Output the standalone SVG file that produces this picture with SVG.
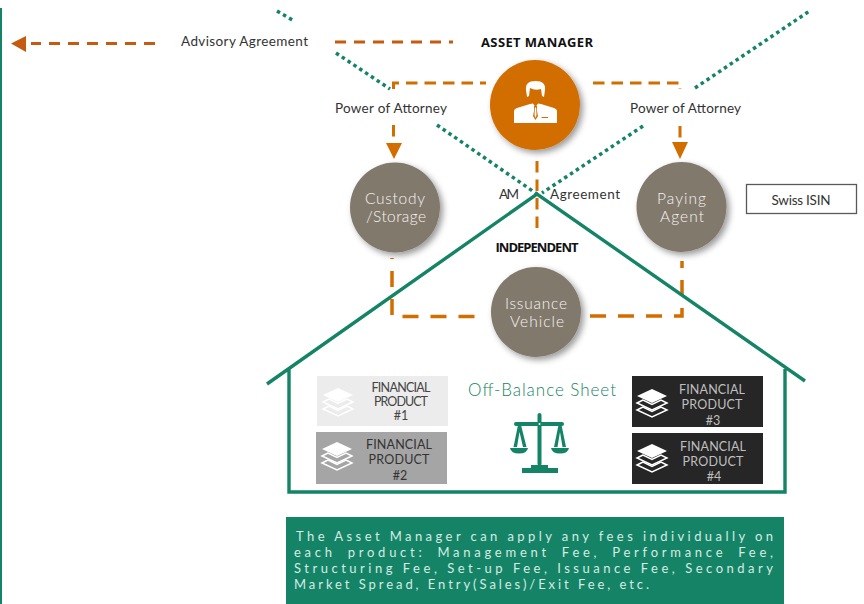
<svg xmlns="http://www.w3.org/2000/svg" width="864" height="604" viewBox="0 0 864 604">
<style>
text{font-family:"Lato","Open Sans","Liberation Sans",sans-serif}
.lb{font-size:13.5px;fill:#333}
.nd{font-size:15.5px;fill:#f6f4f0;text-anchor:middle;font-weight:300}
.b{font-size:13px;font-weight:700;fill:#111;font-family:"Open Sans","Liberation Sans",sans-serif}
.fp{font-size:12.5px;text-anchor:middle}
.fee{font-size:13px;fill:#d5ebe4}
.dash{fill:none;stroke:#D26D00;stroke-width:3;stroke-dasharray:11.5 7}
.dash2{fill:none;stroke:#D26D00;stroke-width:3.5;stroke-dasharray:16 12}
.adv{fill:none;stroke:#C55A11;stroke-width:3;stroke-dasharray:11 8}
.dot{fill:none;stroke:#158466;stroke-width:3.5;stroke-dasharray:3.5 3.5}
.house{fill:none;stroke:#158466;stroke-width:3.4}
.circle{fill:#82796D;filter:url(#sh)}
</style>
<defs>
<filter id="sh" x="-30%" y="-30%" width="170%" height="170%"><feDropShadow dx="3" dy="3" stdDeviation="3" flood-color="#000" flood-opacity="0.4"/></filter>
<g id="stack">
<path d="M0 -14L15 -7L0 0L-15 -7Z" fill="currentColor"/>
<path d="M-9 -3L-15 0L0 7L15 0L9 -3L0 1.5Z" fill="none" stroke="currentColor" stroke-width="1.5"/>
<path d="M-9 4L-15 7L0 14L15 7L9 4L0 8.5Z" fill="none" stroke="currentColor" stroke-width="1.5"/>
</g>
</defs>
<rect x="0" y="8" width="2" height="596" fill="#158466"/>
<g id="connectors">
<path class="dot" d="M277 11L294 21M336 53L390 89M437 125L537 194M643 126L542 193M695 88L811 10"/>
<path class="adv" d="M155 43.500H31M335 42H453"/>
<path d="M11 43.500L26 36V52Z" fill="#C55A11"/>
<path class="dash" d="M393.500 89V83H486M593 83H680V89"/>
<path class="dash" d="M393.500 125V140M680 126V142"/>
<path d="M386 143H402L394 159Z M672 142H688L680 159Z" fill="#D26D00"/>
<path class="dash" d="M537 161V228"/>
<path class="dash2" stroke-dashoffset="15" d="M392 258V316.500H483"/>
<path class="dash2" d="M590 316H682V261"/>
</g>
<g id="house"><path class="house" d="M267 384L537 194L805 381M289 369V492H785V369"/></g>
<g id="asset-manager">
<circle class="circle" cx="535" cy="105" r="45" style="fill:#D26D00"/>
<path d="M526 90Q525 81 535.500 81Q546 81 545 90L544 97L542 96L541 89Q535 91 530 88L529 96L527 97Z" fill="#fff"/>
<path d="M514 123V111Q514 109 517 108L530 104L533 103.500L535.500 107L538 103.500L541 104L554 108Q557 109 557 111V123Z" fill="#fff"/>
<path d="M534 106H537L536.800 110L538 116L535.500 120L533 116L534.200 110Z" fill="#D26D00"/>
<path d="M535 107.500H536L536.500 115L535.500 118L534.500 115Z" fill="#fff"/>
<rect x="541.500" y="117" width="6.500" height="1" fill="#D26D00"/>
<text class="b" x="537" y="47" text-anchor="middle" textLength="112">ASSET MANAGER</text>
</g>
<g id="custody"><circle class="circle" cx="395" cy="207.500" r="45"/><text class="nd" x="395" y="204" textLength="60">Custody</text><text class="nd" x="396" y="222" textLength="60">/Storage</text></g>
<g id="paying"><circle class="circle" cx="681.500" cy="207" r="45"/><text class="nd" x="681.500" y="204" textLength="49">Paying</text><text class="nd" x="682" y="222" textLength="44">Agent</text></g>
<g id="issuance"><circle class="circle" cx="536" cy="312" r="45"/><text class="nd" x="536" y="309" textLength="62">Issuance</text><text class="nd" x="537" y="327" textLength="54">Vehicle</text></g>
<g id="labels">
<text class="lb" x="181" y="46" textLength="127">Advisory Agreement</text>
<text class="lb" x="335" y="113" textLength="112">Power of Attorney</text>
<text class="lb" x="630" y="113" textLength="111">Power of Attorney</text>
<text class="lb" x="499" y="199" textLength="20">AM</text>
<text class="lb" x="550" y="199" textLength="70">Agreement</text>
<text class="b" x="537" y="252" text-anchor="middle" textLength="83">INDEPENDENT</text>
<text x="468" y="396" font-size="17" fill="#158466" font-weight="300" textLength="148">Off-Balance Sheet</text>
</g>
<g id="swiss-isin"><rect x="746.500" y="184.500" width="110" height="29" fill="#fff" stroke="#595959" stroke-width="1.300"/><text x="801" y="205" font-size="13.500" fill="#333" text-anchor="middle" textLength="59">Swiss ISIN</text></g>
<g id="fp1"><rect x="317" y="376" width="131" height="50" fill="#ececec"/><use href="#stack" x="338" y="402" color="#fff"/><text class="fp" fill="#444" x="401" y="392" textLength="59">FINANCIAL</text><text class="fp" fill="#444" x="401" y="406" textLength="54">PRODUCT</text><text class="fp" fill="#444" x="401" y="420">#1</text></g>
<g id="fp2"><rect x="316" y="432" width="131" height="52" fill="#a5a5a5"/><use href="#stack" x="337" y="456" color="#fff"/><text class="fp" fill="#333" font-size="13" x="399" y="449" textLength="66">FINANCIAL</text><text class="fp" fill="#333" x="399" y="464" textLength="61">PRODUCT</text><text class="fp" fill="#333" x="400" y="480">#2</text></g>
<g id="fp3"><rect x="632" y="376" width="131" height="51" fill="#262626"/><use href="#stack" x="652" y="403" color="#fff"/><text class="fp" fill="#bfbfbf" x="712" y="394" textLength="66">FINANCIAL</text><text class="fp" fill="#bfbfbf" x="712" y="409" textLength="61">PRODUCT</text><text class="fp" fill="#bfbfbf" x="713" y="425">#3</text></g>
<g id="fp4"><rect x="632" y="433" width="131" height="51" fill="#262626"/><use href="#stack" x="652" y="458" color="#fff"/><text class="fp" fill="#bfbfbf" x="713" y="451" textLength="66">FINANCIAL</text><text class="fp" fill="#bfbfbf" x="713" y="466" textLength="61">PRODUCT</text><text class="fp" fill="#bfbfbf" x="714" y="481">#4</text></g>
<g id="scales" fill="#158466">
<rect x="537.500" y="413" width="4" height="53" rx="2"/>
<rect x="514" y="422" width="50" height="4" rx="2"/>
<circle cx="539.500" cy="424" r="1" fill="#fff"/>
<rect x="531" y="465" width="17" height="3"/>
<rect x="522" y="468" width="36" height="5"/>
<path d="M510 448H528Q527 453.500 519 453.500Q511 453.500 510 448Z M551 448H569Q568 453.500 560 453.500Q552 453.500 551 448Z"/>
<path d="M518 425H521L526.500 447H523L519.500 432L517 447H513.500Z M558.500 425H561.500L566 447H562.500L560 432L557.500 447H554Z"/>
</g>
<g id="fee-note">
<rect x="286" y="517" width="498" height="87" fill="#158466"/>
<text class="fee" x="296" y="541" textLength="477">The Asset Manager can apply any fees individually on</text>
<text class="fee" x="294" y="557" textLength="479" word-spacing="5">each product: Management Fee, Performance Fee,</text>
<text class="fee" x="294" y="573" textLength="479">Structuring Fee, Set-up Fee, Issuance Fee, Secondary</text>
<text class="fee" x="294" y="589" textLength="355">Market Spread, Entry(Sales)/Exit Fee, etc.</text>
</g>
</svg>
